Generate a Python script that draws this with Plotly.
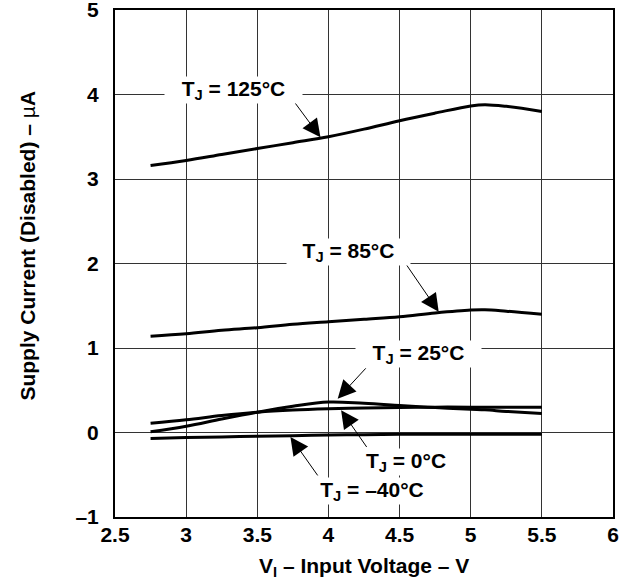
import plotly.graph_objects as go

# Input voltage sweep (V)
v_in = [2.75, 3.0, 3.25, 3.5, 3.75, 4.0, 4.25, 4.5, 4.75, 5.0, 5.1, 5.25, 5.5]

# Disabled supply current (uA) per junction temperature
i_125 = [3.16, 3.22, 3.29, 3.36, 3.43, 3.50, 3.59, 3.69, 3.78, 3.865, 3.88, 3.86, 3.80]
i_85 = [1.14, 1.17, 1.21, 1.24, 1.28, 1.31, 1.34, 1.37, 1.415, 1.45, 1.453, 1.436, 1.40]
i_25 = [0.01, 0.075, 0.16, 0.24, 0.31, 0.36, 0.345, 0.32, 0.295, 0.275, 0.268, 0.25, 0.225]
i_0 = [0.11, 0.15, 0.20, 0.24, 0.265, 0.28, 0.29, 0.295, 0.30, 0.30, 0.30, 0.30, 0.30]
i_m40 = [-0.07, -0.06, -0.052, -0.045, -0.037, -0.03, -0.026, -0.022, -0.021, -0.02, -0.02, -0.02, -0.02]

series = [i_125, i_85, i_25, i_0, i_m40]

x_ticks = [2.5, 3, 3.5, 4, 4.5, 5, 5.5, 6]
x_tick_text = ["2.5", "3", "3.5", "4", "4.5", "5", "5.5", "6"]
y_ticks = [-1, 0, 1, 2, 3, 4, 5]
y_tick_text = ["–1", "0", "1", "2", "3", "4", "5"]

# Curve labels: text, label centre (x, y), box width, arrow tail (x, y), arrow tip (x, y)
labels = [
    ("T<sub>J</sub> = 125°C", 3.336, 4.05, 137, 3.733, 3.974, 3.944, 3.493),
    ("T<sub>J</sub> = 85°C", 4.144, 2.14, 123, 4.529, 2.032, 4.775, 1.428),
    ("T<sub>J</sub> = 25°C", 4.632, 0.93, 125, 4.272, 0.777, 4.065, 0.40),
    ("T<sub>J</sub> = 0°C", 4.544, -0.35, 100, 4.276, -0.189, 4.089, 0.264),
    ("T<sub>J</sub> = –40°C", 4.305, -0.69, 120, 3.932, -0.526, 3.733, -0.052),
]

FONT = "Liberation Sans, Arial, Helvetica, sans-serif"

fig = go.Figure()
for ys in series:
    fig.add_trace(go.Scatter(
        x=v_in, y=ys, mode="lines",
        line=dict(color="black", width=3, shape="spline", smoothing=1.0),
        hoverinfo="skip", showlegend=False,
    ))

for text, lx, ly, w, tx, ty, hx, hy in labels:
    # arrow from the label towards its curve
    fig.add_annotation(
        x=hx, y=hy, ax=tx, ay=ty, xref="x", yref="y", axref="x", ayref="y",
        text="", showarrow=True, arrowhead=2, arrowsize=3.6, arrowwidth=1,
        arrowcolor="black",
    )
for text, lx, ly, w, tx, ty, hx, hy in labels:
    fig.add_annotation(
        x=lx, y=ly, xref="x", yref="y", text=text, showarrow=False,
        bgcolor="white", width=w, height=26, borderpad=0,
        font=dict(family=FONT, size=21, color="black", weight="bold"),
    )

# Axis titles
fig.add_annotation(
    x=0.5, y=-0.098, xref="paper", yref="paper", xanchor="center", yanchor="middle",
    text="V<sub>I</sub> – Input Voltage – V", showarrow=False,
    font=dict(family=FONT, size=21, color="black", weight="bold"),
)
fig.add_annotation(
    x=-0.176, y=0.536, xref="paper", yref="paper", xanchor="center", yanchor="middle",
    text="Supply Current (Disabled) – <span style='font-weight:normal'>µ</span>A",
    textangle=-90, showarrow=False,
    font=dict(family=FONT, size=21, color="black", weight="bold"),
)

axis_common = dict(
    showgrid=True, gridcolor="#333333", gridwidth=1,
    showline=True, linecolor="black", linewidth=2, mirror=True,
    zeroline=False, ticks="", fixedrange=True, automargin=False,
    ticklabeloverflow="allow",
    tickfont=dict(family=FONT, size=21, color="black", weight="bold"),
)

fig.update_layout(
    width=632, height=578,
    margin=dict(l=114.5, r=19.2, t=9.9, b=61.3, autoexpand=False),
    paper_bgcolor="white", plot_bgcolor="white",
    xaxis=dict(range=[2.5, 6], tickvals=x_ticks, ticktext=x_tick_text,
               ticklabelstandoff=-2, **axis_common),
    yaxis=dict(range=[-1, 5], tickvals=y_ticks, ticktext=y_tick_text,
               ticklabelstandoff=10, **axis_common),
    font=dict(family=FONT, color="black"),
)

fig.write_html("out.html", config={"displayModeBar": False})
